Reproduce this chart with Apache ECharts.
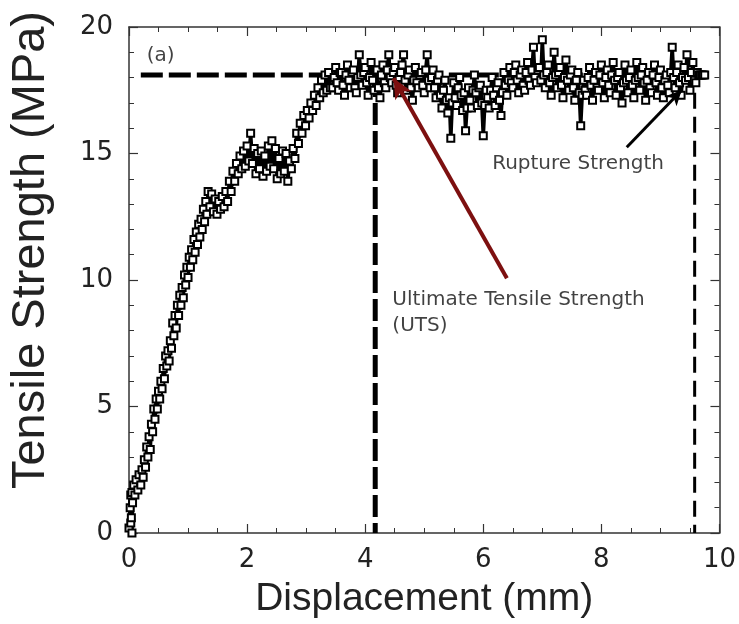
<!DOCTYPE html>
<html>
<head>
<meta charset="utf-8">
<script src="https://cdn.jsdelivr.net/npm/echarts@6/dist/echarts.min.js"></script>
<style>
html,body{margin:0;padding:0;background:#fff;}
#chart{width:739px;height:624px;}
</style>
</head>
<body>
<div id="chart"></div>
<script>
// ---- data ----
const displacement = [
  0.00,0.02,0.03,0.03,0.04,0.05,0.05,0.06,0.08,0.10,0.12,0.15,0.17,0.20,0.22,0.24,0.26,0.28,0.30,0.32,
  0.34,0.36,0.38,0.40,0.42,0.44,0.46,0.48,0.50,0.52,0.54,0.56,0.58,0.60,0.62,0.64,0.66,0.68,0.70,0.72,
  0.74,0.76,0.78,0.80,0.82,0.84,0.86,0.88,0.90,0.92,0.94,0.96,0.98,1.00,1.02,1.04,1.06,1.08,1.10,1.12,
  1.14,1.16,1.18,1.20,1.22,1.24,1.26,1.28,1.30,1.32,1.34,1.37,1.40,1.43,1.46,1.49,1.52,1.55,1.58,1.61,
  1.64,1.67,1.70,1.73,1.76,1.79,1.82,1.85,1.88,1.91,1.94,1.97,2.00,2.03,2.06,2.09,2.12,2.15,2.18,2.21,
  2.24,2.27,2.30,2.33,2.36,2.39,2.42,2.45,2.48,2.51,2.54,2.57,2.60,2.63,2.66,2.69,2.72,2.75,2.78,2.81,
  2.84,2.87,2.90,2.93,2.96,2.99,3.02,3.05,3.08,3.11,3.14,3.17,3.20,3.23,3.26,3.29,3.32,3.35,3.38,3.41,
  3.450,3.475,3.500,3.525,3.550,3.575,3.600,3.625,3.650,3.675,
  3.700,3.725,3.750,3.775,3.800,3.825,3.850,3.875,3.900,3.925,
  3.950,3.975,4.000,4.025,4.050,4.075,4.100,4.125,4.150,4.175,
  4.200,4.225,4.250,4.275,4.300,4.325,4.350,4.375,4.400,4.425,
  4.450,4.475,4.500,4.525,4.550,4.575,4.600,4.625,4.650,4.675,
  4.700,4.725,4.750,4.775,4.800,4.825,4.850,4.875,4.900,4.925,
  4.950,4.975,5.000,5.025,5.050,5.075,5.100,5.125,5.150,5.175,
  5.200,5.225,5.250,5.275,5.300,5.325,5.350,5.375,5.400,5.425,
  5.450,5.475,5.500,5.525,5.550,5.575,5.600,5.625,5.650,5.675,
  5.700,5.725,5.750,5.775,5.800,5.825,5.850,5.875,5.900,5.925,
  5.950,5.975,6.000,6.025,6.050,6.075,6.100,6.125,6.150,6.175,
  6.200,6.225,6.250,6.275,6.300,6.325,6.350,6.375,6.400,6.425,
  6.450,6.475,6.500,6.525,6.550,6.575,6.600,6.625,6.650,6.675,
  6.700,6.725,6.750,6.775,6.800,6.825,6.850,6.875,6.900,6.925,
  6.950,6.975,7.000,7.025,7.050,7.075,7.100,7.125,7.150,7.175,
  7.200,7.225,7.250,7.275,7.300,7.325,7.350,7.375,7.400,7.425,
  7.450,7.475,7.500,7.525,7.550,7.575,7.600,7.625,7.650,7.675,
  7.700,7.725,7.750,7.775,7.800,7.825,7.850,7.875,7.900,7.925,
  7.950,7.975,8.000,8.025,8.050,8.075,8.100,8.125,8.150,8.175,
  8.200,8.225,8.250,8.275,8.300,8.325,8.350,8.375,8.400,8.425,
  8.450,8.475,8.500,8.525,8.550,8.575,8.600,8.625,8.650,8.675,
  8.700,8.725,8.750,8.775,8.800,8.825,8.850,8.875,8.900,8.925,
  8.950,8.975,9.000,9.025,9.050,9.075,9.100,9.125,9.150,9.175,
  9.200,9.225,9.250,9.275,9.300,9.325,9.350,9.375,9.400,9.425,
  9.450,9.475,9.500,9.525,9.550,9.575,9.600,9.625,9.650,9.675,
  9.700,9.725,9.750
];
const stress = [
  0.2,1.0,0.4,1.5,0.6,1.6,0.0,1.2,1.9,1.5,2.1,1.7,2.3,1.9,2.5,2.2,2.9,2.6,3.4,3.0,
  3.8,3.3,4.3,4.0,4.9,4.5,5.3,4.9,5.6,5.3,6.0,5.7,6.5,6.1,7.0,6.6,7.2,6.8,7.6,7.3,
  8.3,7.8,8.6,8.1,9.0,8.6,9.4,9.0,9.7,9.3,10.2,9.8,10.5,10.1,10.9,10.5,11.2,10.8,11.6,11.1,
  11.9,11.4,12.2,11.7,12.4,12.0,12.8,12.3,13.1,12.6,13.5,12.9,13.4,12.7,13.2,12.6,13.1,12.8,13.3,12.9,
  13.5,13.1,13.9,13.5,14.3,13.9,14.6,14.2,14.9,14.4,15.1,14.5,15.3,14.7,15.8,14.6,15.2,14.2,15.0,14.4,
  15.1,14.1,14.9,14.3,15.3,14.5,15.5,14.4,15.2,14.0,14.8,14.2,15.1,14.3,15.0,13.9,14.7,14.4,15.2,14.8,
  15.8,15.4,16.2,15.8,16.5,16.1,16.7,16.4,17.0,16.7,17.3,16.9,17.6,17.2,17.9,17.4,18.1,17.5,18.2,17.6,
  17.6,18.0,18.4,17.8,17.5,18.2,18.2,17.7,17.3,18.1,
  18.5,17.9,17.6,18.2,18.3,17.6,17.4,18.0,18.9,18.1,
  17.7,18.2,18.4,17.8,17.3,18.0,18.6,17.9,17.5,18.3,
  18.3,17.6,17.2,18.1,18.5,17.8,17.6,18.3,18.9,18.0,
  17.8,18.2,18.4,17.7,17.4,18.0,18.2,18.5,18.9,17.9,
  17.5,18.1,18.3,17.6,17.1,17.9,18.4,17.8,17.6,18.1,
  18.2,17.7,17.4,18.3,18.9,17.9,17.6,18.0,18.3,17.6,
  17.2,17.9,18.1,17.3,16.8,17.5,17.9,17.1,16.6,17.2,
  15.6,17.0,17.8,17.2,16.9,17.6,18.0,17.3,16.7,17.4,
  15.9,16.8,17.6,17.1,16.8,17.5,18.1,17.4,16.9,17.6,
  17.7,17.0,15.7,16.9,17.5,17.2,16.8,17.5,18.0,17.3,
  16.9,17.6,17.8,17.1,16.5,17.4,18.2,17.7,17.3,17.9,
  18.4,17.8,17.6,18.2,18.5,17.9,17.4,18.1,18.3,17.7,
  17.5,18.2,18.6,17.9,17.7,18.3,19.2,18.0,17.8,18.3,
  18.4,17.9,19.5,18.1,17.6,18.2,18.5,17.8,17.3,18.0,
  19.0,18.1,17.6,18.2,18.4,17.7,17.2,18.0,18.7,17.9,
  17.5,18.1,18.3,17.6,17.1,17.9,18.2,17.4,16.1,17.3,
  17.9,17.5,17.3,18.0,18.4,17.7,17.1,17.9,18.2,17.6,
  17.5,18.1,18.5,17.8,17.2,18.0,18.3,17.7,17.4,18.1,
  18.6,17.9,17.3,18.0,18.2,17.6,17.0,17.8,18.5,17.9,
  17.4,18.0,18.3,17.7,17.2,17.9,18.6,18.0,17.5,18.1,
  18.4,17.8,17.1,17.9,18.2,17.6,17.4,18.1,18.5,17.8,
  17.3,18.0,18.3,17.6,17.2,17.9,18.1,17.7,17.4,18.2,
  19.2,18.0,17.6,18.2,18.5,17.8,17.3,18.0,18.4,17.9,
  18.9,18.0,17.5,18.2,18.6,17.9,17.8,18.2,18.1,18.1,
  18.1,18.1,18.1
];
// reference levels
const utsStress = 18.1;
const utsDisp = 4.17;
const ruptureDisp = 9.58;
const ruptureTop = 17.4;
const guideStart = 0.2;
const guideEnd = 9.82;
// annotation arrows [from, to]
const utsArrow = [[6.40, 10.07], [4.48, 17.97]];
const ruptureArrow = [[8.43, 15.25], [9.36, 17.5]];
// annotation texts
const notes = [
  { pos: [0.30, 18.88], text: '(a)', size: 20 },
  { pos: [6.15, 14.61], text: 'Rupture Strength', size: 20 },
  { pos: [4.46, 8.72], text: 'Ultimate Tensile Strength\n(UTS)', size: 20 }
];

const curve = displacement.map((x, i) => [x, stress[i]]);

const chart = echarts.init(document.getElementById('chart'), null, { renderer: 'canvas' });

const axisCommon = {
  type: 'value',
  axisLine: { show: true, onZero: false, lineStyle: { color: '#333', width: 1.5 } },
  axisTick: { show: true, inside: true, length: 9, lineStyle: { color: '#333', width: 1.2 } },
  minorTick: { show: true, length: 5, lineStyle: { color: '#333', width: 1 } },
  splitLine: { show: false }
};

function arrowSeries(name, pts, color, width, size) {
  return {
    name: name, type: 'line', data: [], z: 5,
    markLine: {
      silent: true, animation: false,
      symbol: ['none', 'arrow'],
      symbolSize: size,
      label: { show: false },
      lineStyle: { color: color, width: width, type: 'solid' },
      data: [[{ coord: pts[0] }, { coord: pts[1] }]]
    }
  };
}

chart.setOption({
  animation: false,
  backgroundColor: '#fff',
  grid: { left: 128, right: 19, top: 27, bottom: 91, containLabel: false },
  xAxis: [
    Object.assign({}, axisCommon, {
      min: 0, max: 10, interval: 2, position: 'bottom',
      minorTick: Object.assign({}, axisCommon.minorTick, { splitNumber: 4 }),
      axisLabel: { fontSize: 26, fontFamily: 'DejaVu Sans', color: '#222', margin: 14 },
      name: 'Displacement (mm)', nameLocation: 'middle', nameGap: 47,
      nameTextStyle: { fontSize: 39, fontFamily: 'Liberation Sans, Arial', color: '#222' }
    }),
    Object.assign({}, axisCommon, {
      min: 0, max: 10, interval: 2, position: 'top',
      minorTick: Object.assign({}, axisCommon.minorTick, { splitNumber: 4 }),
      axisLabel: { show: false }
    })
  ],
  yAxis: [
    Object.assign({}, axisCommon, {
      min: 0, max: 20, interval: 5, position: 'left',
      minorTick: Object.assign({}, axisCommon.minorTick, { splitNumber: 5 }),
      axisLabel: { fontSize: 26, fontFamily: 'DejaVu Sans', color: '#222', margin: 16 },
      name: 'Tensile Strength (MPa)', nameLocation: 'middle', nameGap: 74,
      nameTextStyle: { fontSize: 47, fontFamily: 'Liberation Sans, Arial', color: '#222', padding: [0, 0, 0, 60] }
    }),
    Object.assign({}, axisCommon, {
      min: 0, max: 20, interval: 5, position: 'right',
      minorTick: Object.assign({}, axisCommon.minorTick, { splitNumber: 5 }),
      axisLabel: { show: false }
    })
  ],
  series: [
    {
      name: 'UTS level', type: 'line', silent: true, symbol: 'none', z: 1,
      data: [[guideStart, utsStress], [guideEnd, utsStress]],
      lineStyle: { color: '#000', width: 5, type: [22, 6] }
    },
    {
      name: 'UTS displacement', type: 'line', silent: true, symbol: 'none', z: 1,
      data: [[utsDisp, utsStress], [utsDisp, 0]],
      lineStyle: { color: '#000', width: 5, type: [22, 6] }
    },
    {
      name: 'Rupture displacement', type: 'line', silent: true, symbol: 'none', z: 1,
      data: [[ruptureDisp, ruptureTop], [ruptureDisp, 0]],
      lineStyle: { color: '#000', width: 3, type: [16, 8] }
    },
    {
      name: 'Tensile test', type: 'line', z: 3,
      data: curve,
      symbol: 'emptyRect', symbolSize: 7, showAllSymbol: true,
      lineStyle: { color: '#000', width: 3.6 },
      itemStyle: { color: '#000', borderColor: '#000', borderWidth: 2 }
    },
    arrowSeries('UTS arrow', utsArrow, '#7d1010', 4, [14, 20]),
    arrowSeries('Rupture arrow', ruptureArrow, '#000', 3, [11, 15]),
    {
      name: 'notes', type: 'scatter', symbolSize: 0, z: 6, silent: true,
      data: notes.map(n => ({
        value: n.pos,
        label: {
          show: true, position: 'right', distance: 0, formatter: n.text,
          fontSize: n.size, fontFamily: 'DejaVu Sans', color: '#111',
          align: 'left', lineHeight: 26
        }
      }))
    }
  ]
});
</script>
</body>
</html>
